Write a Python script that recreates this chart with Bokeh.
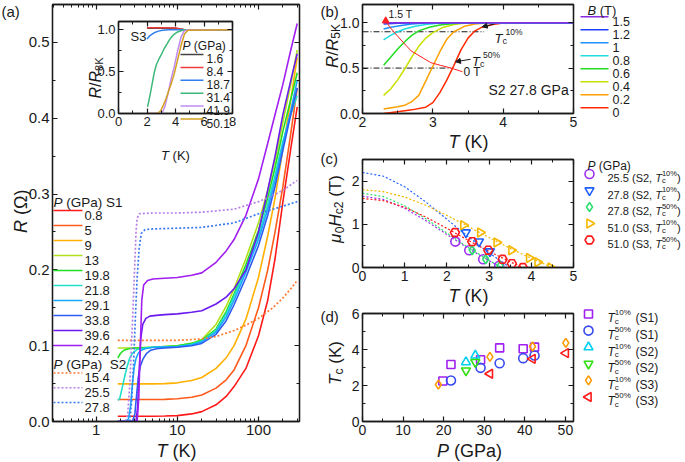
import math
from bokeh.plotting import figure
from bokeh.models import (GridBox, Label, FixedTicker, LinearAxis, LogAxis,
                          NumeralTickFormatter, PrintfTickFormatter, Arrow, NormalHead)
from bokeh.embed import file_html
from bokeh.resources import INLINE

FONT = "Liberation Sans"
INK = "#1a1a1a"

# ======================= DATA =======================
# ---- (a) main panel, sample S1 (solid) ----
a_s1_labels = ["0.8", "5", "9", "13", "19.8", "21.8", "29.1", "33.8", "39.6", "42.4"]
a_s1_colors = ["#ff1a1a", "#ff5a1a", "#ffb000", "#b0e01a", "#22dd22", "#22e0c8",
               "#1aa8ff", "#2f5cf0", "#6a1aee", "#a01ef0"]
T_hi = [1.85, 3, 5, 7, 10, 15, 20, 30, 40, 50, 70, 100, 130, 160, 200, 250, 300]
R_08 = [0.007, 0.007, 0.007, 0.0072, 0.0078, 0.010, 0.013, 0.022, 0.033, 0.046, 0.07, 0.113, 0.16, 0.215, 0.29, 0.36, 0.415]
R_5 = [0.029, 0.029, 0.029, 0.0292, 0.030, 0.032, 0.035, 0.044, 0.055, 0.068, 0.10, 0.15, 0.20, 0.25, 0.31, 0.38, 0.44]
R_9 = [0.0496, 0.0496, 0.0496, 0.050, 0.051, 0.054, 0.058, 0.070, 0.084, 0.10, 0.135, 0.19, 0.245, 0.295, 0.36, 0.425, 0.48]
R_13 = [0.097, 0.097, 0.098, 0.099, 0.100, 0.103, 0.108, 0.128, 0.152, 0.175, 0.215, 0.262, 0.305, 0.345, 0.395, 0.445, 0.49]
T_198 = [1.85, 2.0, 2.2, 2.5, 3, 5, 10, 15, 20, 30, 40, 50, 70, 100, 130, 160, 200, 250, 300]
R_198 = [0.084, 0.090, 0.094, 0.096, 0.097, 0.098, 0.100, 0.103, 0.107, 0.122, 0.145, 0.168, 0.207, 0.252, 0.295, 0.335, 0.383, 0.425, 0.46]
T_218 = [1.85, 1.95, 2.1, 2.2, 2.4, 2.6, 2.8, 3.2, 4, 5, 10, 15, 20, 30, 40, 50, 70, 100, 130, 160, 200, 250, 300]
R_218 = [0.028, 0.030, 0.045, 0.055, 0.072, 0.084, 0.090, 0.095, 0.097, 0.098, 0.099, 0.102, 0.106, 0.12, 0.142, 0.165, 0.202, 0.245, 0.287, 0.325, 0.37, 0.405, 0.43]
T_291 = [1.85, 2.3, 2.5, 2.65, 2.8, 2.95, 3.1, 3.3, 3.6, 4, 5, 10, 15, 20, 30, 40, 50, 70, 100, 130, 160, 200, 250, 300]
R_291 = [0.0, 0.0, 0.003, 0.02, 0.05, 0.072, 0.083, 0.090, 0.094, 0.096, 0.098, 0.099, 0.101, 0.105, 0.118, 0.138, 0.16, 0.197, 0.24, 0.28, 0.318, 0.365, 0.41, 0.45]
T_338 = [1.85, 2.8, 3.0, 3.15, 3.3, 3.5, 3.8, 4.2, 4.7, 5.5, 7, 10, 15, 20, 30, 40, 50, 70, 100, 130, 160, 200, 250, 300]
R_338 = [0.0, 0.0, 0.01, 0.035, 0.058, 0.073, 0.083, 0.090, 0.094, 0.096, 0.097, 0.098, 0.100, 0.103, 0.115, 0.133, 0.154, 0.19, 0.232, 0.272, 0.31, 0.358, 0.405, 0.44]
T_396 = [1.85, 3.1, 3.25, 3.4, 3.55, 3.75, 4.1, 4.6, 5.5, 7, 10, 15, 20, 30, 40, 50, 70, 100, 130, 160, 200, 250, 300]
R_396 = [0.0, 0.0, 0.02, 0.07, 0.11, 0.128, 0.136, 0.139, 0.140, 0.141, 0.142, 0.144, 0.146, 0.155, 0.164, 0.175, 0.20, 0.25, 0.305, 0.35, 0.405, 0.45, 0.485]
T_424 = [1.85, 3.2, 3.35, 3.5, 3.65, 3.85, 4.3, 5, 7, 10, 15, 20, 30, 40, 50, 70, 100, 130, 160, 200, 250, 300]
R_424 = [0.0, 0.0, 0.03, 0.10, 0.16, 0.18, 0.186, 0.188, 0.189, 0.190, 0.193, 0.196, 0.21, 0.225, 0.24, 0.272, 0.32, 0.367, 0.405, 0.445, 0.49, 0.525]
a_s1_T = [T_hi, T_hi, T_hi, T_hi, T_198, T_218, T_291, T_338, T_396, T_424]
a_s1_R = [R_08, R_5, R_9, R_13, R_198, R_218, R_291, R_338, R_396, R_424]

# ---- (a) main panel, sample S2 (dotted) ----
a_s2_labels = ["15.4", "25.5", "27.8"]
a_s2_colors = ["#ff7a30", "#b77fe6", "#3a7af0"]
T_154 = [1.85, 5, 10, 20, 30, 50, 70, 100, 150, 200, 250, 300]
R_154 = [0.107, 0.107, 0.107, 0.109, 0.112, 0.12, 0.127, 0.136, 0.15, 0.163, 0.175, 0.186]
T_255 = [1.85, 2.3, 2.45, 2.6, 2.8, 3.0, 3.1, 3.2, 3.4, 5, 10, 20, 50, 100, 150, 200, 300]
R_255 = [0.0, 0.0, 0.01, 0.05, 0.13, 0.21, 0.25, 0.268, 0.274, 0.275, 0.275, 0.276, 0.28, 0.29, 0.298, 0.305, 0.318]
T_278 = [1.85, 2.6, 2.75, 2.9, 3.05, 3.2, 3.4, 3.6, 4, 5, 10, 20, 50, 100, 150, 200, 300]
R_278 = [0.0, 0.0, 0.03, 0.08, 0.14, 0.19, 0.23, 0.248, 0.253, 0.254, 0.255, 0.256, 0.262, 0.274, 0.28, 0.284, 0.29]
a_s2_T = [T_154, T_255, T_278]
a_s2_R = [R_154, R_255, R_278]

a_xticks = [1, 10, 100]
a_xminor = [0.3, 0.4, 0.5, 0.6, 0.7, 0.8, 0.9, 2, 3, 4, 5, 6, 7, 8, 9,
            20, 30, 40, 50, 60, 70, 80, 90, 200, 300]
a_yticks = [0.0, 0.1, 0.2, 0.3, 0.4, 0.5]
a_yminor = [0.05, 0.15, 0.25, 0.35, 0.45]

# ---- (a) inset, sample S3: R/R8K ----
in_labels = ["1.6", "8.4", "18.7", "31.4", "41.9", "50.1"]
in_colors = ["#444444", "#ee3b3b", "#2f7fef", "#3cb878", "#c08cf0", "#d4a020"]
in_T_16 = [2.0, 3.0, 4.0, 4.3, 4.6, 5.0, 8.0]
in_R_16 = [1.02, 1.02, 1.018, 1.01, 1.002, 1.0, 1.0]
in_T_84 = [2.0, 3.0, 4.0, 4.3, 4.6, 5.0, 8.0]
in_R_84 = [1.025, 1.025, 1.022, 1.012, 1.003, 1.0, 1.0]
in_T_187 = [2.0, 2.2, 2.5, 2.8, 3.1, 3.5, 8.0]
in_R_187 = [0.89, 0.93, 0.965, 0.985, 0.995, 1.0, 1.0]
in_T_314 = [2.04, 2.15, 2.28, 2.4, 2.51, 2.65, 2.86, 3.05, 3.22, 3.4, 3.57, 3.75, 3.92, 4.15, 4.4, 4.6, 8.0]
in_R_314 = [0.08, 0.17, 0.28, 0.39, 0.49, 0.58, 0.66, 0.72, 0.78, 0.83, 0.88, 0.92, 0.95, 0.975, 0.99, 1.0, 1.0]
in_T_419 = [2.0, 2.95, 3.1, 3.25, 3.45, 3.7, 3.9, 4.15, 4.4, 4.6, 4.8, 8.0]
in_R_419 = [0.0, 0.0, 0.02, 0.08, 0.22, 0.42, 0.55, 0.75, 0.92, 0.985, 1.0, 1.0]
in_T_501 = [2.0, 2.7, 2.95, 3.15, 3.34, 3.5, 3.69, 3.92, 4.16, 4.4, 4.63, 4.87, 8.0]
in_R_501 = [0.0, 0.0, 0.03, 0.10, 0.18, 0.26, 0.35, 0.48, 0.65, 0.82, 0.95, 0.995, 1.0]
in_T = [in_T_16, in_T_84, in_T_187, in_T_314, in_T_419, in_T_501]
in_R = [in_R_16, in_R_84, in_R_187, in_R_314, in_R_419, in_R_501]
in_xticks = [0, 2, 4, 6, 8]
in_xminor = [1, 3, 5, 7]
in_yticks = [0.0, 0.5, 1.0]
in_yminor = [0.25, 0.75]

# ---- (b) S2 27.8 GPa, R/R5K in field ----
b_labels = ["1.5", "1.2", "1", "0.8", "0.6", "0.4", "0.2", "0"]
b_colors = ["#8a2be2", "#2040ff", "#1e90ff", "#22dddd", "#22dd22", "#c8e000", "#ffa000", "#ff2a00"]
b_T_15 = [2.3, 5.0]
b_R_15 = [1.0, 1.0]
b_T_12 = [2.3, 2.5, 2.8, 5.0]
b_R_12 = [0.985, 0.993, 1.0, 1.0]
b_T_10 = [2.3, 2.4, 2.55, 2.7, 2.9, 3.1, 5.0]
b_R_10 = [0.93, 0.95, 0.97, 0.985, 0.995, 1.0, 1.0]
b_T_08 = [2.3, 2.4, 2.5, 2.6, 2.75, 2.9, 3.1, 3.3, 5.0]
b_R_08 = [0.81, 0.86, 0.90, 0.93, 0.96, 0.98, 0.995, 1.0, 1.0]
b_T_06 = [2.3, 2.4, 2.5, 2.6, 2.7, 2.8, 2.95, 3.1, 3.3, 3.5, 5.0]
b_R_06 = [0.53, 0.62, 0.71, 0.79, 0.86, 0.91, 0.95, 0.975, 0.99, 1.0, 1.0]
b_T_04 = [2.3, 2.4, 2.5, 2.6, 2.7, 2.8, 2.9, 3.0, 3.15, 3.3, 3.5, 5.0]
b_R_04 = [0.20, 0.27, 0.37, 0.49, 0.62, 0.74, 0.83, 0.89, 0.95, 0.98, 1.0, 1.0]
b_T_02 = [2.3, 2.5, 2.6, 2.7, 2.8, 2.9, 3.0, 3.1, 3.2, 3.3, 3.45, 3.6, 3.8, 5.0]
b_R_02 = [0.05, 0.075, 0.09, 0.13, 0.20, 0.36, 0.52, 0.68, 0.82, 0.90, 0.96, 0.985, 1.0, 1.0]
b_T_0 = [2.3, 2.5, 2.7, 2.9, 3.0, 3.1, 3.2, 3.3, 3.4, 3.5, 3.6, 3.7, 3.85, 4.0, 4.2, 5.0]
b_R_0 = [0.0, 0.02, 0.04, 0.07, 0.12, 0.23, 0.37, 0.53, 0.70, 0.83, 0.91, 0.95, 0.98, 0.995, 1.0, 1.0]
b_T = [b_T_15, b_T_12, b_T_10, b_T_08, b_T_06, b_T_04, b_T_02, b_T_0]
b_R = [b_R_15, b_R_12, b_R_10, b_R_08, b_R_06, b_R_04, b_R_02, b_R_0]
b_thr10_T = [2.0, 3.73]
b_thr10_R = [0.9, 0.9]
b_thr50_T = [2.0, 3.26]
b_thr50_R = [0.5, 0.5]
b_field_T = [3.42, 3.26, 3.11, 2.97, 2.69, 2.5, 2.38, 2.33]
b_field_R = [0.46, 0.50, 0.53, 0.56, 0.69, 0.85, 0.96, 1.02]
b_xticks = [2, 3, 4, 5]
b_xminor = [2.5, 3.5, 4.5]
b_yticks = [0.0, 0.5, 1.0]
b_yminor = [0.25, 0.75]

# ---- (c) upper critical field ----
c_fit_T_255 = [0, 0.5, 1, 1.5, 2, 2.5, 3, 3.3]
c_fit_H_255 = [1.65, 1.575, 1.372, 1.085, 0.764, 0.447, 0.157, 0.0]
c_fit_T_278a = [0, 0.5, 1, 1.5, 2, 2.5, 3, 3.5]
c_fit_H_278a = [2.2, 2.112, 1.868, 1.517, 1.117, 0.714, 0.337, 0.0]
c_fit_T_278b = [0, 0.5, 1, 1.5, 2, 2.5, 3, 3.3]
c_fit_H_278b = [1.72, 1.64, 1.43, 1.131, 0.796, 0.466, 0.164, 0.0]
c_fit_T_510a = [0, 0.5, 1, 1.5, 2, 2.5, 3, 3.5, 4, 4.5]
c_fit_H_510a = [1.8, 1.756, 1.631, 1.44, 1.207, 0.952, 0.693, 0.443, 0.211, 0.0]
c_fit_T_510b = [0, 0.5, 1, 1.5, 2, 2.5, 3, 3.5, 3.8]
c_fit_H_510b = [1.6, 1.546, 1.393, 1.168, 0.906, 0.633, 0.372, 0.131, 0.0]
c_T_255 = [2.2, 2.53, 2.86, 3.24]
c_H_255 = [0.6, 0.4, 0.19, 0.04]
c_T_278a = [2.45, 2.76, 3.02]
c_H_278a = [0.81, 0.6, 0.37]
c_T_278b = [2.6, 2.92, 3.26]
c_H_278b = [0.4, 0.19, 0.04]
c_T_510a = [2.39, 2.79, 3.18, 3.53, 3.95, 4.15, 4.46]
c_H_510a = [0.98, 0.81, 0.58, 0.40, 0.22, 0.12, 0.0]
c_T_510b = [2.19, 2.6, 2.98, 3.32, 3.54, 3.8]
c_H_510b = [0.81, 0.6, 0.4, 0.19, 0.09, 0.0]
c_series_P = ["25.5", "27.8", "27.8", "51.0", "51.0"]
c_series_S = ["S2", "S2", "S2", "S3", "S3"]
c_series_pct = ["10%", "10%", "50%", "10%", "50%"]
c_colors = ["#9b30f0", "#2060ff", "#30e070", "#f5b800", "#ff1a1a"]
c_markers = ["circle", "inverted_triangle", "diamond", "triangle", "hex"]
c_angles = [0, 0, 0, -math.pi / 2, 0]
c_xticks = [0, 1, 2, 3, 4, 5]
c_xminor = [0.5, 1.5, 2.5, 3.5, 4.5]
c_yticks = [0, 1, 2]
c_yminor = [0.5, 1.5]

# ---- (d) Tc vs pressure ----
d_P_s1a = [19.8, 21.8, 29.1, 33.8, 39.6, 42.4]
d_T_s1a = [2.25, 3.17, 3.43, 4.09, 4.04, 4.13]
d_P_s1b = [21.8, 29.1, 33.8, 39.6, 42.4]
d_T_s1b = [2.28, 2.98, 3.24, 3.52, 3.67]
d_P_s2a = [25.5, 27.8]
d_T_s2a = [3.3, 3.67]
d_P_s2b = [25.5, 27.8]
d_T_s2b = [2.83, 3.3]
d_P_s3a = [18.7, 31.4, 41.9, 50.1]
d_T_s3a = [2.05, 3.59, 4.17, 4.37]
d_P_s3b = [31.4, 41.9, 50.1]
d_T_s3b = [2.65, 3.48, 3.8]
d_pct = ["10%", "50%", "10%", "50%", "10%", "50%"]
d_samp = ["(S1)", "(S1)", "(S2)", "(S2)", "(S3)", "(S3)"]
d_colors = ["#a020f0", "#3a4cf0", "#00d0f0", "#30e010", "#ff9900", "#ff1a1a"]
d_markers = ["square", "circle", "triangle", "inverted_triangle", "diamond", "triangle"]
d_angles = [0, 0, 0, 0, 0, math.pi / 2]
d_xticks = [0, 10, 20, 30, 40, 50]
d_xminor = [5, 15, 25, 35, 45]
d_yticks = [0, 2, 4, 6]
d_yminor = [1, 3, 5]

# ======================= HELPERS =======================
ADV = {' ': 278, '(': 333, ')': 333, '%': 889, ',': 278, '.': 278, '/': 278, 'B': 667, 'G': 778,
       'H': 722, 'K': 667, 'P': 667, 'R': 722, 'S': 667, 'T': 611, 'a': 556, 'c': 500,
       'μ': 576, 'Ω': 768}


def tw(s, size):
    return sum(ADV.get(ch, 556) for ch in s) * size / 1000.0


def style_axis(ax, ticks, minor, size, labels=True, fmt=None):
    ax.ticker = FixedTicker(ticks=ticks, minor_ticks=minor)
    ax.axis_line_color = INK
    ax.axis_line_width = 1.3
    ax.major_tick_line_color = INK
    ax.minor_tick_line_color = INK
    ax.major_tick_line_width = 1.2
    ax.minor_tick_line_width = 1.0
    ax.major_tick_in = 5
    ax.major_tick_out = 0
    ax.minor_tick_in = 3
    ax.minor_tick_out = 0
    ax.major_label_text_font = FONT
    ax.axis_label = None
    if labels:
        ax.major_label_text_color = INK
        ax.major_label_text_font_size = f"{size}px"
        ax.major_label_standoff = 3
    else:
        ax.major_label_text_color = None
        ax.major_label_text_font_size = "1px"
        ax.major_label_standoff = 0
    if fmt is not None:
        ax.formatter = fmt


def make_fig(w, h, xr, yr, borders, xticks, xminor, yticks, yminor, size,
             xlog=False, xfmt=None, yfmt=None, transparent=False):
    l, r, t, b = borders
    kw = dict(width=w, height=h, x_range=xr, y_range=yr, output_backend="svg",
              toolbar_location=None, min_border_left=l, min_border_right=r,
              min_border_top=t, min_border_bottom=b, align="start")
    if xlog:
        kw["x_axis_type"] = "log"
    p = figure(**kw)
    p.xgrid.visible = False
    p.ygrid.visible = False
    p.outline_line_color = INK
    p.outline_line_width = 1.3
    p.background_fill_color = "white"
    p.border_fill_color = None if transparent else "white"
    style_axis(p.xaxis[0], xticks, xminor, size, True, xfmt)
    style_axis(p.yaxis[0], yticks, yminor, size, True, yfmt)
    top = LogAxis() if xlog else LinearAxis()
    style_axis(top, xticks, xminor, size, False)
    p.add_layout(top, "above")
    right = LinearAxis()
    style_axis(right, yticks, yminor, size, False)
    p.add_layout(right, "right")
    return p


# overlay figure used for texts and legend keys.  Its frame sits about 4.5 px below the
# page top, so its y range is offset by the same amount to address page pixels directly.
OV_SHIFT = 4.5
ov = figure(width=685, height=462, x_range=(0, 685), y_range=(462 + OV_SHIFT, OV_SHIFT),
            output_backend="svg", toolbar_location=None, min_border=0,
            x_axis_location=None, y_axis_location=None, align="start")
ov.outline_line_color = None
ov.background_fill_color = None
ov.border_fill_color = None
ov.xgrid.visible = False
ov.ygrid.visible = False


def txt(X, Y, parts, vertical=False, anchor="left", color=INK):
    norm = []
    for prt in parts:
        text, size = prt[0], prt[1]
        ital = prt[2] if len(prt) > 2 else False
        dy = prt[3] if len(prt) > 3 else 0
        adv = prt[4] if len(prt) > 4 else None
        body = text.lstrip(' ')
        pre = tw(text[:len(text) - len(body)], size)
        if adv is None:
            adv = tw(text, size)
        norm.append((body, size, ital, dy, adv, pre))
    total = sum(n[4] for n in norm)
    c = -total / 2 if anchor == "center" else 0.0
    for body, size, ital, dy, adv, pre in norm:
        if body:
            cc = c + pre
            if vertical:
                x, y = X - dy, Y - cc
            else:
                x, y = X + cc, Y - dy
            ov.add_layout(Label(x=x, y=y, text=body, text_font=FONT,
                                text_font_size=f"{size}px",
                                text_font_style="italic" if ital else "normal",
                                text_color=color, text_align="left",
                                text_baseline="alphabetic",
                                angle=math.pi / 2 if vertical else 0))
        c += adv


def key_line(x0, x1, y, color, dash="solid", width=1.6):
    ov.line([x0, x1], [y, y], line_color=color, line_width=width, line_dash=dash)


# ======================= PANEL (a) =======================
pa = make_fig(310, 462, (0.29, 320), (0.0, 0.55), (52, 11, 4, 40),
              a_xticks, a_xminor, a_yticks, a_yminor, 15, xlog=True,
              xfmt=PrintfTickFormatter(format="%d"),
              yfmt=NumeralTickFormatter(format="0.0"))
for col, T, R in zip(a_s1_colors, a_s1_T, a_s1_R):
    pa.line(T, R, line_color=col, line_width=1.6)
for col, T, R in zip(a_s2_colors, a_s2_T, a_s2_R):
    pa.line(T, R, line_color=col, line_width=1.7, line_dash="2 2")

txt(1, 15.5, [("(a)", 15)])
txt(20, 215, [("R", 18, True), (" (Ω)", 18)], vertical=True, anchor="center")
txt(176, 455, [("T", 18, True), (" (K)", 18)], anchor="center")
txt(53, 206, [("P", 13.5, True), (" (GPa) S1", 13.5)])
for k, (lab, col) in enumerate(zip(a_s1_labels, a_s1_colors)):
    yk = 214.5 + 15 * k
    key_line(53, 82, yk, col)
    txt(84, yk + 4.5, [(lab, 13)])
txt(53, 368, [("P", 13.5, True), (" (GPa)", 13.5), ("  S2", 13.5)])
for k, (lab, col) in enumerate(zip(a_s2_labels, a_s2_colors)):
    yk = 377 + 14.75 * k
    key_line(53, 82, yk, col, dash="2 2", width=1.7)
    txt(84, yk + 4.5, [(lab, 13)])

# ---- inset ----
pin = make_fig(150, 136, (0, 8), (0.0, 1.1), (28, 8, 7, 18),
               in_xticks, in_xminor, in_yticks, in_yminor, 13,
               yfmt=NumeralTickFormatter(format="0.0"), transparent=True)
for col, T, R in zip(in_colors, in_T, in_R):
    pin.line(T, R, line_color=col, line_width=1.5)
txt(130, 40, [("S3", 13)])
txt(182, 50, [("P", 12, True), (" (GPa)", 12)])
for k, (lab, col) in enumerate(zip(in_labels, in_colors)):
    yk = 58.5 + 12.9 * k
    key_line(180, 203, yk, col, width=1.5)
    txt(206, yk + 4.2, [(lab, 12)])
txt(95, 82, [("R", 16, True), ("/", 16), ("R", 16, True), ("8K", 11, False, -3)],
    vertical=True, anchor="center")
txt(175, 159, [("T", 13, True), (" (K)", 13)], anchor="center")

# ======================= PANEL (b) =======================
pb = make_fig(375, 150, (2, 5), (0.0, 1.2), (52, 112, 4, 37),
              b_xticks, b_xminor, b_yticks, b_yminor, 14,
              yfmt=NumeralTickFormatter(format="0.0"))
pb.line(b_thr10_T, b_thr10_R, line_color=INK, line_width=1, line_dash="6 2 1 2")
pb.line(b_thr50_T, b_thr50_R, line_color=INK, line_width=1, line_dash="6 2 1 2")
for col, T, R in zip(b_colors[::-1], b_T[::-1], b_R[::-1]):
    pb.line(T, R, line_color=col, line_width=1.5)
pb.line(b_field_T, b_field_R, line_color="#ff2020", line_width=1)
pb.scatter([b_field_T[-1]], [b_field_R[-1]], marker="triangle", size=7,
           fill_color="#ff2020", line_color="#ff2020")

txt(320, 15.5, [("(b)", 15)])
txt(332, 50, [("R", 17, True), ("/", 17), ("R", 17, True), ("5K", 12, False, -3.5)],
    vertical=True, anchor="center")
txt(468, 146, [("T", 18, True), (" (K)", 18)], anchor="center")
txt(587, 14, [("B", 13, True), (" (T)", 13)])
for k, (lab, col) in enumerate(zip(b_labels, b_colors)):
    yk = 20.7 + 13 * k
    key_line(580, 608, yk, col, width=1.5)
    txt(612, yk + 4.4, [(lab, 12.5)])
txt(388, 18, [("1.5 T", 10.5)])
txt(488, 94, [("S2 27.8 GPa", 14)])
txt(494, 42, [("T", 13, True), ("c", 9, False, -3, 3), ("10%", 8.5, False, 6)])
txt(471.5, 65, [("T", 13, True), ("c", 9, False, -3, 3), ("50%", 8.5, False, 6)])
txt(463, 76, [("0 T", 12)])
for (x0, y0, x1, y1) in [(493.3, 28.3, 481.7, 30.7), (470, 63.3, 455, 65.7)]:
    ov.add_layout(Arrow(end=NormalHead(size=5, line_color=INK, fill_color=INK),
                        x_start=x0, y_start=y0, x_end=x1, y_end=y1,
                        line_color=INK, line_width=1))

# ======================= PANEL (c) =======================
pc = make_fig(375, 155, (0, 5), (0.0, 2.5), (52, 112, 9, 38),
              c_xticks, c_xminor, c_yticks, c_yminor, 14)
c_fit_T = [c_fit_T_255, c_fit_T_278a, c_fit_T_278b, c_fit_T_510a, c_fit_T_510b]
c_fit_H = [c_fit_H_255, c_fit_H_278a, c_fit_H_278b, c_fit_H_510a, c_fit_H_510b]
c_T = [c_T_255, c_T_278a, c_T_278b, c_T_510a, c_T_510b]
c_H = [c_H_255, c_H_278a, c_H_278b, c_H_510a, c_H_510b]
for col, T, H in zip(c_colors, c_fit_T, c_fit_H):
    pc.line(T, H, line_color=col, line_width=1.2, line_dash="2 2")
for col, mk, ang, T, H in zip(c_colors, c_markers, c_angles, c_T, c_H):
    pc.scatter(T, H, marker=mk, angle=ang, size=9, fill_color=None,
               line_color=col, line_width=1.6)

txt(320, 162, [("(c)", 15)])
txt(335, 213, [("μ", 17, True), ("0", 12, False, -3.5), ("H", 17, True),
               ("c2", 12, False, -3.5), (" (T)", 17)], vertical=True, anchor="center")
txt(468, 300, [("T", 18, True), (" (K)", 18)], anchor="center")
txt(587, 170, [("P", 12, True), (" (GPa)", 12)])
for k, (pv, sv, pct, col, mk, ang) in enumerate(zip(c_series_P, c_series_S, c_series_pct,
                                                    c_colors, c_markers, c_angles)):
    yk = 178 + 16.5 * k
    ov.scatter([589], [yk], marker=mk, angle=ang, size=9, fill_color=None,
               line_color=col, line_width=1.6)
    txt(607, yk + 4, [(f"{pv} ({sv},", 11), (" T", 11, True), ("c", 7.5, False, -2.5, 0),
                      (pct, 7.5, False, 5), (")", 11)])

# ======================= PANEL (d) =======================
pd_ = make_fig(375, 157, (0, 52), (0.0, 6.0), (52, 112, 8, 41),
               d_xticks, d_xminor, d_yticks, d_yminor, 14)
d_P = [d_P_s1a, d_P_s1b, d_P_s2a, d_P_s2b, d_P_s3a, d_P_s3b]
d_T = [d_T_s1a, d_T_s1b, d_T_s2a, d_T_s2b, d_T_s3a, d_T_s3b]
for col, mk, ang, P, T in zip(d_colors, d_markers, d_angles, d_P, d_T):
    sz = 8 if mk == "square" else 9
    pd_.scatter(P, T, marker=mk, angle=ang, size=sz, fill_color=None,
                line_color=col, line_width=1.6)

txt(320, 320, [("(d)", 15)])
txt(335, 367, [("T", 17, True), ("c", 12, False, -3.5), (" (K)", 17)],
    vertical=True, anchor="center")
txt(469, 455, [("P", 18, True), (" (GPa)", 18)], anchor="center")
for k, (pct, sm, col, mk, ang) in enumerate(zip(d_pct, d_samp, d_colors, d_markers, d_angles)):
    yk = 318 + 16.6 * k
    sz = 8 if mk == "square" else 9
    ov.scatter([588], [yk], marker=mk, angle=ang, size=sz, fill_color=None,
               line_color=col, line_width=1.6)
    txt(607, yk + 4.3, [("T", 12, True), ("c", 8, False, -3, 0), (pct, 8, False, 5.5)])
    txt(635, yk + 4.3, [(sm, 12)])

# ======================= LAYOUT =======================
panels = GridBox(children=[(pa, 0, 0, 4, 3), (pin, 1, 1, 1, 1), (pb, 0, 3, 2, 1),
                           (pc, 2, 3, 1, 1), (pd_, 3, 3, 1, 1)],
                 rows=["14px", "136px", "155px", "157px"],
                 cols=["90px", "150px", "70px", "375px"], spacing=0, align="start")
page = GridBox(children=[(panels, 0, 0), (ov, 0, 0)],
               rows=["462px"], cols=["685px"], spacing=0)

open("out.html", "w").write(file_html(page, INLINE))
